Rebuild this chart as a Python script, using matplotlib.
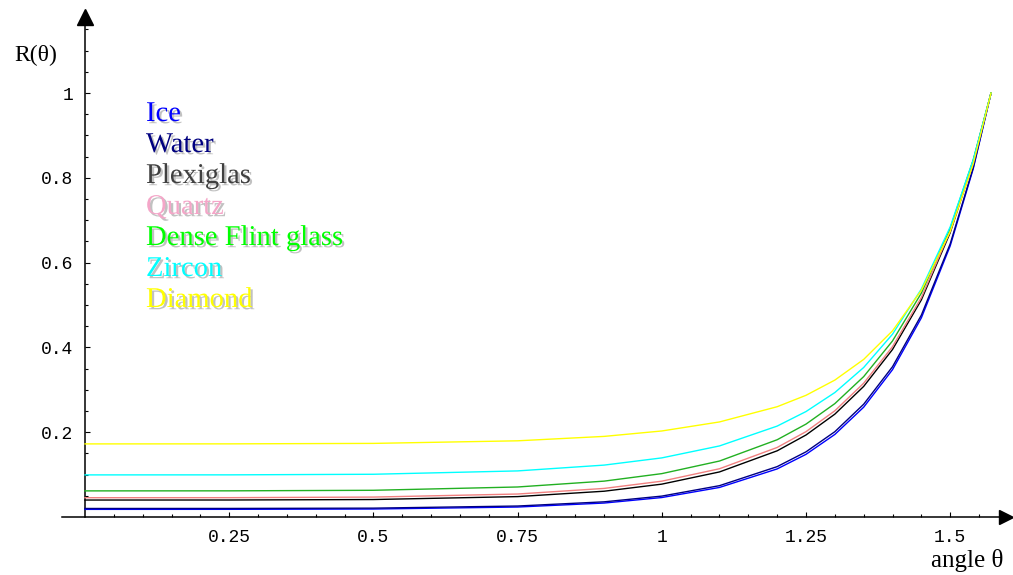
import numpy as np
import matplotlib
matplotlib.use("Agg")
import matplotlib.pyplot as plt
import matplotlib.patheffects as pe
from matplotlib.ticker import FixedLocator

# ── Data: unpolarised reflectance R(θ) ────────────────────────────────────
theta = [0.0, 0.25, 0.5, 0.75, 0.9, 1.0, 1.1, 1.2, 1.25, 1.3, 1.35,
         1.4, 1.45, 1.5, 1.54, 1.5708]

ice     = [0.0180, 0.0181, 0.0188, 0.0235, 0.0329, 0.0459, 0.0697, 0.1134,
           0.1478, 0.1947, 0.2590, 0.3475, 0.4697, 0.6394, 0.8216, 1.0]
water   = [0.0201, 0.0202, 0.0209, 0.0259, 0.0358, 0.0493, 0.0739, 0.1188,
           0.1537, 0.2012, 0.2660, 0.3545, 0.4762, 0.6443, 0.8244, 1.0]
plexi   = [0.0400, 0.0401, 0.0412, 0.0481, 0.0608, 0.0775, 0.1063, 0.1561,
           0.1934, 0.2426, 0.3080, 0.3951, 0.5121, 0.6706, 0.8380, 1.0]
quartz  = [0.0455, 0.0456, 0.0470, 0.0542, 0.0674, 0.0845, 0.1138, 0.1640,
           0.2013, 0.2505, 0.3155, 0.4018, 0.5176, 0.6743, 0.8398, 1.0]
flint   = [0.0616, 0.0617, 0.0630, 0.0708, 0.0846, 0.1023, 0.1320, 0.1822,
           0.2191, 0.2674, 0.3311, 0.4153, 0.5281, 0.6807, 0.8425, 1.0]
zircon  = [0.0993, 0.0994, 0.1008, 0.1087, 0.1224, 0.1394, 0.1676, 0.2144,
           0.2487, 0.2935, 0.3526, 0.4312, 0.5377, 0.6843, 0.8427, 1.0]
diamond = [0.1724, 0.1725, 0.1736, 0.1797, 0.1901, 0.2029, 0.2242, 0.2601,
           0.2870, 0.3229, 0.3717, 0.4391, 0.5347, 0.6736, 0.8330, 1.0]

names = ["Ice", "Water", "Plexiglas", "Quartz", "Dense Flint glass",
         "Zircon", "Diamond"]
series = [ice, water, plexi, quartz, flint, zircon, diamond]
line_colors = ["#0000ff", "#000080", "#000000", "#f08080", "#22b022",
               "#00ffff", "#ffff00"]
text_colors = ["#0000ff", "#000080", "#404040", "#f4a6c8", "#00ff00",
               "#00ffff", "#ffff00"]

xticks = [0.25, 0.5, 0.75, 1.0, 1.25, 1.5]
xticklabels = ["0.25", "0.5", "0.75", "1", "1.25", "1.5"]
yticks = [0.2, 0.4, 0.6, 0.8, 1.0]
yticklabels = ["0.2", "0.4", "0.6", "0.8", "1"]

# ── Figure: one axes covering the canvas, origin placed by pixel ─────────
W, H = 1013, 575
x0_px, y0_px = 85, 517          # pixel position of (0, 0)
sx, sy = 576.8, 424.0           # pixels per data unit

fig = plt.figure(figsize=(W / 100, H / 100), dpi=100)
ax = fig.add_axes([0, 0, 1, 1])
ax.set_xlim(-x0_px / sx, (W - x0_px) / sx)
ax.set_ylim(-(H - y0_px) / sy, y0_px / sy)
ax.patch.set_alpha(0)

for ys, c in zip(series, line_colors):
    ax.plot(theta, ys, color=c, lw=1.0, solid_joinstyle="round", zorder=3)

# ── Axes through the origin with arrow heads ─────────────────────────────
for side in ("top", "right"):
    ax.spines[side].set_visible(False)
ax.spines["left"].set_position(("data", 0))
ax.spines["bottom"].set_position(("data", 0))
ax.spines["left"].set_bounds(0, (y0_px - 14) / sy)
ax.spines["bottom"].set_bounds(-23 / sx, (1003 - x0_px) / sx)
for side in ("left", "bottom"):
    ax.spines[side].set_linewidth(1.1)

ax.plot(0, (y0_px - 17) / sy, marker="^", ms=11, color="black",
        clip_on=False, zorder=4)
ax.plot((1006 - x0_px) / sx, 0, marker=">", ms=10, color="black",
        clip_on=False, zorder=4)

ax.xaxis.set_major_locator(FixedLocator(xticks))
ax.set_xticklabels(xticklabels)
ax.yaxis.set_major_locator(FixedLocator(yticks))
ax.set_yticklabels(yticklabels)
ax.xaxis.set_minor_locator(FixedLocator(np.arange(1, 32) * 0.05))
ax.yaxis.set_minor_locator(FixedLocator(np.arange(1, 24) * 0.05))

ax.tick_params(which="both", direction="in", width=0.8)
ax.tick_params(which="major", length=3.8)
ax.tick_params(which="minor", length=2.3)
ax.tick_params(axis="x", which="major", pad=9)
ax.tick_params(axis="y", which="major", pad=8.5)
for lab in ax.get_xticklabels() + ax.get_yticklabels():
    lab.set_fontfamily("Liberation Mono")
    lab.set_fontsize(13)

# ── Axis labels ──────────────────────────────────────────────────────────
fig.text(36 / W, 1 - 55 / H, "R(θ)", family="Liberation Serif",
         fontsize=17, ha="center", va="center")
fig.text(1003 / W, 1 - 567 / H, "angle θ", family="Liberation Serif",
         fontsize=18, ha="right", va="baseline")

# ── Coloured legend text with soft drop shadow ───────────────────────────
shadow = [pe.withSimplePatchShadow(offset=(1.6, -1.6),
                                   shadow_rgbFace="#777777", alpha=0.45)]
for i, (name, c) in enumerate(zip(names, text_colors)):
    fig.text(146 / W, 1 - (121 + 31 * i) / H, name, color=c,
             family="Liberation Serif", fontsize=20.6, va="baseline",
             path_effects=shadow)

fig.savefig("out.png", dpi=100)
